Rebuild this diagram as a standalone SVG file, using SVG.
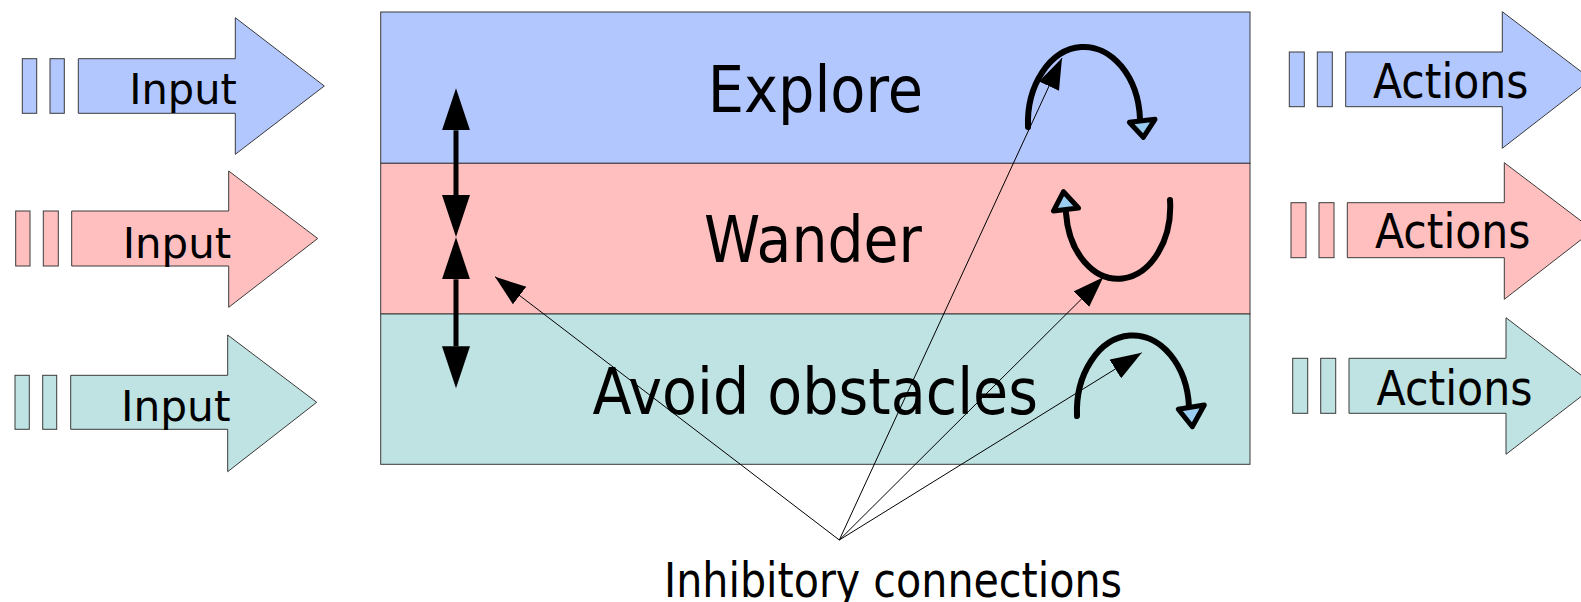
<svg xmlns="http://www.w3.org/2000/svg" width="1581" height="602" viewBox="0 0 1581 602">
<style>
  .blue{fill:#b3c7ff}
  .pink{fill:#ffbfbf}
  .teal{fill:#bfe2e2}
  .sh{stroke:#3a3a3a;stroke-width:1}
  .t{font-family:"DejaVu Sans","Liberation Sans",sans-serif;fill:#000}
  .band{font-size:64px}
  .io{font-size:43px}
  .act{font-size:48px}
  .inh{fill:none;stroke:#000;stroke-width:1}
  .loop{fill:none;stroke:#000;stroke-width:6;stroke-linecap:round}
  .ohead{fill:#99ccee;stroke:#000;stroke-width:5;stroke-linejoin:round}
  .vbar{fill:none;stroke:#000;stroke-width:5}
</style>
<defs>
  <marker id="ah" markerUnits="userSpaceOnUse" markerWidth="32" markerHeight="24" refX="31" refY="11" orient="auto">
    <path d="M0,0 L31,11 L0,22 z" fill="#000"/>
  </marker>
  <marker id="big" markerUnits="userSpaceOnUse" markerWidth="44" markerHeight="30" refX="0" refY="14" orient="auto-start-reverse">
    <path d="M0,0 L42,14 L0,28 z" fill="#000"/>
  </marker>
</defs>

<g id="input-explore">
  <rect class="blue sh" x="22.3" y="58.7" width="14.4" height="54.6"/>
  <rect class="blue sh" x="50" y="58.7" width="14.3" height="54.6"/>
  <path class="blue sh" d="M78.3,58.7 H235.3 V17.7 L324.3,86 L235.3,154.3 V113.3 H78.3 z"/>
  <text class="t io" x="129.3" y="104.3" textLength="107.5" lengthAdjust="spacingAndGlyphs">Input</text>
</g>
<g id="input-wander">
  <rect class="pink sh" x="15.7" y="211" width="14.3" height="55"/>
  <rect class="pink sh" x="43.3" y="211" width="15" height="55"/>
  <path class="pink sh" d="M71.7,211 H228.7 V171 L317.7,238.5 L228.7,307.3 V266 H71.7 z"/>
  <text class="t io" x="122.7" y="258.3" textLength="108.5" lengthAdjust="spacingAndGlyphs">Input</text>
</g>
<g id="input-avoid">
  <rect class="teal sh" x="15" y="375.3" width="14.3" height="54"/>
  <rect class="teal sh" x="42.7" y="375.3" width="14" height="54"/>
  <path class="teal sh" d="M70.7,375.3 H227.7 V335 L316.7,402.3 L227.7,471.7 V429.3 H70.7 z"/>
  <text class="t io" x="121" y="420.7" textLength="109.5" lengthAdjust="spacingAndGlyphs">Input</text>
</g>

<g id="layer-explore">
  <rect class="blue sh" x="380.7" y="12" width="869.3" height="151.3"/>
  <text class="t band" x="707.7" y="111.7" textLength="215.5" lengthAdjust="spacingAndGlyphs">Explore</text>
</g>
<g id="layer-wander">
  <rect class="pink sh" x="380.7" y="163.3" width="869.3" height="150.7"/>
  <text class="t band" x="704" y="261.7" textLength="218" lengthAdjust="spacingAndGlyphs">Wander</text>
</g>
<g id="layer-avoid">
  <rect class="teal sh" x="380.7" y="314" width="869.3" height="150.3"/>
  <text class="t band" x="592.5" y="414" textLength="445.5" lengthAdjust="spacingAndGlyphs">Avoid obstacles</text>
</g>

<g id="actions-explore">
  <rect class="blue sh" x="1289.3" y="52" width="15" height="54.7"/>
  <rect class="blue sh" x="1317.3" y="52" width="15" height="54.7"/>
  <path class="blue sh" d="M1345.7,52 H1502.3 V11.7 L1591.3,79.3 L1502.3,148.3 V106.7 H1345.7 z"/>
  <text class="t act" x="1373" y="98.3" textLength="155.5" lengthAdjust="spacingAndGlyphs">Actions</text>
</g>
<g id="actions-wander">
  <rect class="pink sh" x="1291" y="202.7" width="15" height="55"/>
  <rect class="pink sh" x="1319" y="202.7" width="15" height="55"/>
  <path class="pink sh" d="M1347.3,202.7 H1504.3 V162.7 L1593.3,230.2 L1504.3,299.3 V257.7 H1347.3 z"/>
  <text class="t act" x="1375" y="248.3" textLength="155.5" lengthAdjust="spacingAndGlyphs">Actions</text>
</g>
<g id="actions-avoid">
  <rect class="teal sh" x="1292.7" y="358.3" width="15" height="55"/>
  <rect class="teal sh" x="1320.7" y="358.3" width="15" height="55"/>
  <path class="teal sh" d="M1349,358.3 H1506 V317.7 L1595,385.8 L1506,454.3 V413.3 H1349 z"/>
  <text class="t act" x="1376.5" y="405" textLength="156" lengthAdjust="spacingAndGlyphs">Actions</text>
</g>

<g id="loops">
  <path class="loop" d="M1028,127 A56 76 0 0 1 1140,119"/>
  <polygon class="ohead" points="1129.3,122.3 1155,119.3 1143.3,137.3"/>
  <path class="loop" d="M1170,200 A52 72 0 0 1 1066,213"/>
  <polygon class="ohead" points="1053.5,211 1078.5,208 1063.5,191.7"/>
  <path class="loop" d="M1077,416 A56 76 0 0 1 1189,407"/>
  <polygon class="ohead" points="1178.3,409.3 1204.3,405 1192.3,426.7"/>
</g>

<g id="label-inhibitory">
  <text class="t act" x="664" y="596.7" textLength="458" lengthAdjust="spacingAndGlyphs">Inhibitory connections</text>
</g>

<g id="connectors">
  <path class="vbar" d="M456,130.3 V195" marker-start="url(#big)" marker-end="url(#big)"/>
  <path class="vbar" d="M456,279.3 V346.3" marker-start="url(#big)" marker-end="url(#big)"/>
  <line class="inh" x1="839.3" y1="540" x2="495" y2="276.7" marker-end="url(#ah)"/>
  <line class="inh" x1="839.3" y1="540" x2="1062" y2="58" marker-end="url(#ah)"/>
  <line class="inh" x1="839.3" y1="540" x2="1103.3" y2="277.3" marker-end="url(#ah)"/>
  <line class="inh" x1="839.3" y1="540" x2="1141.7" y2="352.7" marker-end="url(#ah)"/>
</g>
</svg>
